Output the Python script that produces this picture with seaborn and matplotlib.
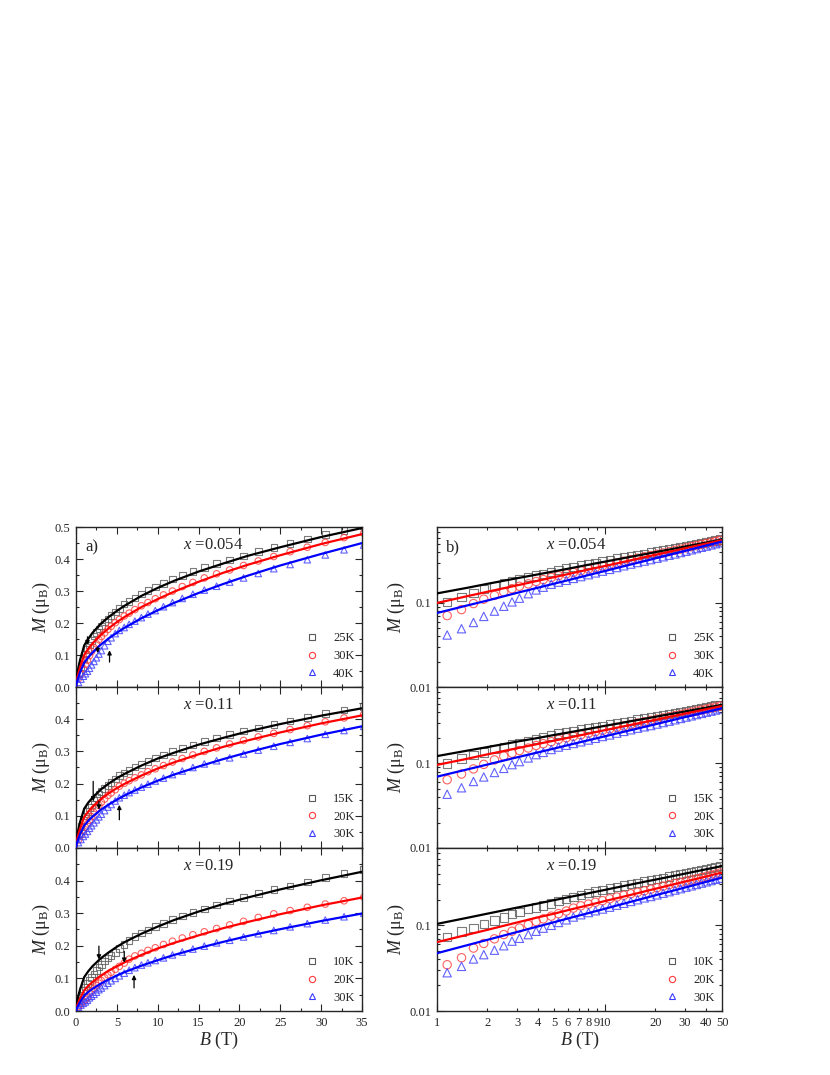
import matplotlib
matplotlib.use("Agg")
import matplotlib.pyplot as plt
import seaborn as sns
from matplotlib.lines import Line2D
from matplotlib.ticker import MultipleLocator

# field grid of the measured points (T)
B_data = [0.3, 0.6, 0.9, 1.15, 1.4, 1.65, 1.9, 2.2, 2.5, 2.8, 3.1, 3.5, 3.9, 4.3, 4.8,
          5.3, 5.9, 6.5, 7.2, 8.0, 8.8, 9.7, 10.7, 11.8, 13.0, 14.3, 15.7, 17.2, 18.8,
          20.5, 22.3, 24.2, 26.2, 28.3, 30.5, 32.8, 35.2, 37.7, 40.3, 43.0, 45.8, 48.7]

# x = 0.054
m054_25K = [0.041, 0.064, 0.088, 0.103, 0.118, 0.132, 0.146, 0.159, 0.171, 0.182, 0.191,
            0.203, 0.213, 0.223, 0.235, 0.246, 0.259, 0.268, 0.279, 0.291, 0.301, 0.312,
            0.324, 0.337, 0.349, 0.361, 0.374, 0.386, 0.397, 0.410, 0.423, 0.436, 0.449,
            0.463, 0.477, 0.490, 0.503, 0.516, 0.529, 0.542, 0.556, 0.569]
m054_30K = [0.0265, 0.0415, 0.0573, 0.0708, 0.0834, 0.0984, 0.111, 0.123, 0.135, 0.148,
            0.158, 0.169, 0.180, 0.190, 0.201, 0.211, 0.222, 0.231, 0.242, 0.254, 0.264,
            0.276, 0.288, 0.300, 0.314, 0.327, 0.341, 0.354, 0.366, 0.380, 0.394, 0.408,
            0.423, 0.437, 0.452, 0.467, 0.481, 0.496, 0.511, 0.526, 0.541, 0.556]
m054_40K = [0.0146, 0.0247, 0.0339, 0.0416, 0.0494, 0.0586, 0.0692, 0.0800, 0.0914, 0.103,
            0.114, 0.129, 0.143, 0.154, 0.167, 0.177, 0.186, 0.196, 0.206, 0.217, 0.228,
            0.239, 0.251, 0.264, 0.277, 0.290, 0.303, 0.315, 0.328, 0.341, 0.355, 0.370,
            0.383, 0.398, 0.413, 0.429, 0.444, 0.460, 0.475, 0.491, 0.507, 0.522]

# x = 0.11
m011_15K = [0.0437, 0.0661, 0.0858, 0.100, 0.114, 0.125, 0.135, 0.147, 0.157, 0.167, 0.175,
            0.185, 0.194, 0.203, 0.214, 0.225, 0.233, 0.241, 0.251, 0.260, 0.269, 0.279,
            0.289, 0.299, 0.309, 0.320, 0.331, 0.342, 0.353, 0.364, 0.373, 0.384, 0.395,
            0.406, 0.417, 0.428, 0.439, 0.450, 0.461, 0.472, 0.483, 0.493]
m011_20K = [0.0246, 0.0390, 0.0524, 0.0641, 0.0749, 0.0861, 0.0974, 0.110, 0.122, 0.132,
            0.142, 0.152, 0.163, 0.171, 0.181, 0.192, 0.201, 0.209, 0.218, 0.227, 0.237,
            0.246, 0.256, 0.267, 0.278, 0.289, 0.300, 0.311, 0.323, 0.334, 0.345, 0.356,
            0.368, 0.380, 0.392, 0.404, 0.415, 0.427, 0.439, 0.451, 0.463, 0.475]
m011_30K = [0.0165, 0.0263, 0.0358, 0.0432, 0.0515, 0.0611, 0.0691, 0.0781, 0.0873, 0.0967,
            0.105, 0.116, 0.127, 0.135, 0.146, 0.156, 0.164, 0.172, 0.180, 0.189, 0.198,
            0.208, 0.217, 0.228, 0.239, 0.250, 0.261, 0.271, 0.280, 0.292, 0.304, 0.316,
            0.328, 0.340, 0.353, 0.365, 0.378, 0.390, 0.403, 0.415, 0.428, 0.441]

# x = 0.19
m019_10K = [0.0323, 0.0475, 0.0628, 0.0736, 0.0844, 0.0939, 0.103, 0.114, 0.124, 0.135,
            0.143, 0.154, 0.162, 0.171, 0.180, 0.192, 0.204, 0.216, 0.228, 0.240, 0.249,
            0.259, 0.269, 0.280, 0.291, 0.302, 0.313, 0.325, 0.337, 0.348, 0.360, 0.372,
            0.384, 0.396, 0.410, 0.422, 0.434, 0.446, 0.458, 0.470, 0.482, 0.494]
m019_20K = [0.0136, 0.0220, 0.0297, 0.0347, 0.0419, 0.0543, 0.0615, 0.0696, 0.0780, 0.0854,
            0.0930, 0.102, 0.111, 0.119, 0.128, 0.137, 0.147, 0.159, 0.169, 0.177, 0.186,
            0.194, 0.204, 0.214, 0.224, 0.234, 0.243, 0.253, 0.264, 0.275, 0.287, 0.298,
            0.308, 0.318, 0.328, 0.338, 0.349, 0.361, 0.373, 0.385, 0.396, 0.408]
m019_30K = [0.0114, 0.0182, 0.0237, 0.0280, 0.0332, 0.0405, 0.0455, 0.0513, 0.0578, 0.0654,
            0.0706, 0.0779, 0.0853, 0.0927, 0.100, 0.108, 0.116, 0.125, 0.133, 0.141, 0.148,
            0.155, 0.163, 0.172, 0.181, 0.190, 0.199, 0.209, 0.217, 0.227, 0.237, 0.247,
            0.258, 0.268, 0.279, 0.289, 0.300, 0.311, 0.322, 0.333, 0.344, 0.355]

# fitted curves
B_fit = [0, 0.05, 0.2, 0.5, 1, 1.5, 2, 3, 4, 5, 6, 8, 10, 12, 15, 18, 21, 25, 30, 35, 40, 45, 50]
fit054_25K = [0, 0.021, 0.050, 0.085, 0.130, 0.151, 0.169, 0.197, 0.219, 0.238, 0.255, 0.285,
              0.310, 0.332, 0.361, 0.386, 0.410, 0.437, 0.469, 0.497, 0.522, 0.546, 0.568]
fit054_30K = [0, 0.014, 0.034, 0.063, 0.100, 0.120, 0.136, 0.162, 0.184, 0.203, 0.220, 0.250,
              0.275, 0.298, 0.329, 0.357, 0.382, 0.412, 0.447, 0.478, 0.507, 0.534, 0.559]
fit054_40K = [0, 0.009, 0.024, 0.046, 0.076, 0.093, 0.107, 0.132, 0.152, 0.170, 0.186, 0.215,
              0.240, 0.263, 0.294, 0.322, 0.348, 0.380, 0.416, 0.450, 0.481, 0.510, 0.537]
fit011_15K = [0, 0.021, 0.048, 0.081, 0.122, 0.141, 0.156, 0.181, 0.200, 0.217, 0.231, 0.256,
              0.278, 0.296, 0.321, 0.342, 0.362, 0.385, 0.411, 0.434, 0.455, 0.475, 0.493]
fit011_20K = [0, 0.014, 0.035, 0.061, 0.096, 0.113, 0.128, 0.151, 0.170, 0.186, 0.200, 0.225,
              0.247, 0.266, 0.291, 0.314, 0.334, 0.359, 0.387, 0.412, 0.436, 0.457, 0.477]
fit011_30K = [0, 0.008, 0.023, 0.043, 0.0697, 0.0845, 0.0970, 0.118, 0.135, 0.150, 0.164,
              0.188, 0.209, 0.228, 0.253, 0.276, 0.297, 0.323, 0.352, 0.378, 0.403, 0.427, 0.449]
fit019_10K = [0, 0.016, 0.038, 0.067, 0.104, 0.122, 0.137, 0.161, 0.180, 0.197, 0.212, 0.237,
              0.259, 0.279, 0.305, 0.328, 0.348, 0.373, 0.401, 0.427, 0.450, 0.471, 0.492]
fit019_20K = [0, 0.008, 0.021, 0.039, 0.0637, 0.0773, 0.0887, 0.108, 0.124, 0.137, 0.150,
              0.172, 0.192, 0.209, 0.232, 0.254, 0.273, 0.297, 0.324, 0.348, 0.371, 0.393, 0.413]
fit019_30K = [0, 0.005, 0.014, 0.028, 0.0473, 0.0584, 0.0678, 0.0836, 0.0971, 0.109, 0.120,
              0.139, 0.156, 0.172, 0.193, 0.212, 0.230, 0.251, 0.276, 0.299, 0.321, 0.341, 0.360]

# arrows: field, tail, head
arrows054 = [(1.4, 0.157, 0.131), (2.65, 0.125, 0.106), (4.1, 0.078, 0.115)]
arrows011 = [(2.1, 0.207, 0.145), (2.8, 0.145, 0.119), (5.3, 0.0875, 0.134)]
arrows019 = [(2.8, 0.199, 0.158), (5.9, 0.183, 0.148), (7.1, 0.071, 0.111)]

rows = [
    ("0.054", ["25K", "30K", "40K"], [m054_25K, m054_30K, m054_40K],
     [fit054_25K, fit054_30K, fit054_40K], arrows054),
    ("0.11", ["15K", "20K", "30K"], [m011_15K, m011_20K, m011_30K],
     [fit011_15K, fit011_20K, fit011_30K], arrows011),
    ("0.19", ["10K", "20K", "30K"], [m019_10K, m019_20K, m019_30K],
     [fit019_10K, fit019_20K, fit019_30K], arrows019),
]

line_colors = ["black", "#ff0000", "#0000ff"]
mark_colors = ["#5a5a5a", "#ff3a3a", "#3a3aff"]
markers = ["s", "o", "^"]

sns.set_style("ticks")
plt.rcParams["font.family"] = ["Liberation Serif", "DejaVu Serif"]
plt.rcParams["mathtext.fontset"] = "custom"
plt.rcParams["mathtext.rm"] = "Liberation Serif"
plt.rcParams["mathtext.it"] = "Liberation Serif:italic"

fig = plt.figure(figsize=(8.3, 10.75), dpi=100)

bottoms = [0.3609, 0.2112, 0.0595]
heights = [0.1488, 0.1497, 0.1517]
ylab = r"$M$ (μ$_{\rm B}$)"

for r, (xval, temps, data, fits, arrows) in enumerate(rows):
    axl = fig.add_axes([0.0916, bottoms[r], 0.3446, heights[r]])
    axr = fig.add_axes([0.5265, bottoms[r], 0.3434, heights[r]])
    axr.set_xscale("log")
    axr.set_yscale("log")

    for i in range(3):
        sns.lineplot(x=B_fit, y=fits[i], ax=axl, color=line_colors[i], lw=1.6,
                     estimator=None, sort=False, zorder=3)
        sns.scatterplot(x=B_data, y=data[i], ax=axl, marker=markers[i], s=22,
                        fc="none", ec=mark_colors[i], linewidth=0.8, alpha=0.8, zorder=2)
        sns.lineplot(x=B_fit[4:], y=fits[i][4:], ax=axr, color=line_colors[i], lw=1.6,
                     estimator=None, sort=False, zorder=3)
        sns.scatterplot(x=B_data, y=data[i], ax=axr, marker=markers[i], s=36,
                        fc="none", ec=mark_colors[i], linewidth=0.8, alpha=0.8, zorder=2)

    for bx, y0, y1 in arrows:
        axl.annotate("", xy=(bx, y1), xytext=(bx, y0),
                     arrowprops=dict(arrowstyle="-|>", color="black", lw=0.9,
                                     mutation_scale=6, shrinkA=0, shrinkB=0), zorder=5)

    # left, linear
    axl.set_xlim(0, 35)
    axl.set_ylim(0, 0.5)
    axl.xaxis.set_major_locator(MultipleLocator(5))
    axl.xaxis.set_minor_locator(MultipleLocator(2.5))
    axl.set_yticks([0, 0.1, 0.2, 0.3, 0.4, 0.5] if r == 0 else [0, 0.1, 0.2, 0.3, 0.4])
    axl.set_yticklabels(["0.0", "0.1", "0.2", "0.3", "0.4", "0.5"][:len(axl.get_yticks())])
    axl.yaxis.set_minor_locator(MultipleLocator(0.05))

    # right, log-log
    axr.set_xlim(1, 50)
    axr.set_ylim(0.01, 0.8)
    axr.set_xticks([1, 10])
    axr.set_xticklabels(["1", "10"])
    minor_x = [2, 3, 4, 5, 6, 7, 8, 9, 20, 30, 40, 50]
    axr.set_xticks(minor_x, minor=True)
    axr.set_xticklabels([str(v) for v in minor_x], minor=True)
    axr.set_yticks([0.01, 0.1])
    axr.set_yticklabels(["0.01", "0.1"])
    axr.set_yticks([0.02, 0.03, 0.04, 0.05, 0.06, 0.07, 0.08, 0.09,
                    0.2, 0.3, 0.4, 0.5, 0.6, 0.7], minor=True)
    axr.set_yticklabels([], minor=True)

    for ax, tx in ((axl, 0.374), (axr, 0.382)):
        ax.tick_params(which="both", direction="in", top=True, right=True,
                       labelsize=9, pad=4)
        ax.tick_params(which="major", length=5, width=0.8)
        ax.tick_params(which="minor", length=2.5, width=0.8)
        for sp in ax.spines.values():
            sp.set_linewidth(1.0)
        ax.set_ylabel(ylab, fontsize=13, labelpad=2)
        ax.text(tx, 0.89, r"$x$ =" + xval, transform=ax.transAxes, fontsize=12,
                ha="left", va="center")
        handles = [Line2D([], [], ls="none", marker=markers[i], mfc="none",
                          mec=mark_colors[i], mew=0.8, ms=4.5) for i in range(3)]
        ax.legend(handles, temps, loc="lower right", frameon=False, fontsize=9,
                  handlelength=1.0, handletextpad=1.2, labelspacing=0.45,
                  borderaxespad=0.2)
        if r < 2:
            ax.tick_params(which="both", labelbottom=False)
        else:
            ax.set_xlabel(r"$B$ (T)", fontsize=13, labelpad=1)

    if r == 0:
        axl.text(0.031, 0.875, "a)", transform=axl.transAxes, fontsize=12, va="center")
        axr.text(0.032, 0.875, "b)", transform=axr.transAxes, fontsize=12, va="center")

fig.savefig("out.png", dpi=100)
